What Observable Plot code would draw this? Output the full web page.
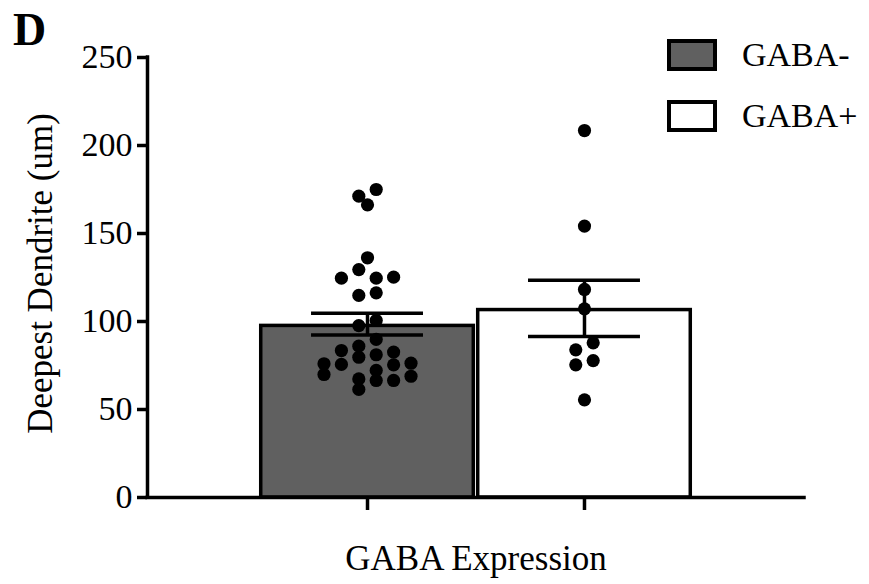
<!DOCTYPE html>
<html>
<head>
<meta charset="utf-8">
<script src="https://cdn.jsdelivr.net/npm/d3@7"></script>
<script src="https://cdn.jsdelivr.net/npm/@observablehq/plot@0.6"></script>
<style>
  body { margin: 0; background: #fff; }
  #wrap { position: relative; width: 869px; height: 584px; font-family: "Liberation Serif", serif; color: #000; }
  #chart svg { display: block; }
  #chart svg, #chart svg text, #overlay text { font-family: "Liberation Serif", serif !important; }
  #overlay { position: absolute; left: 0; top: 0; pointer-events: none; }
</style>
</head>
<body>
<div id="wrap">
  <div id="chart"></div>
  <svg id="overlay" width="869" height="584"></svg>
</div>
<script>
// ---- data ----
const panelLetter = "D";
const groups = ["GABA-", "GABA+"];
const groupFills = ["#606060", "#ffffff"];
const means = [97.5, 106.5];
const errLow = [92.4, 91.5];
const errHigh = [104.7, 123.5];

const gabaNegValues = [175, 171.2, 166.3, 136.2, 129.5, 124.6, 124.6, 125.2, 114.8, 116.3,
  100.6, 97.7, 89.8, 83.5, 86, 79.7, 81.1, 82.6, 76, 75.6,
  72.2, 75.4, 76.3, 69.9, 67.4, 66.5, 66.5, 68.9, 61.4];
// horizontal swarm slot of each point (half dot-steps from the group centre)
const gabaNegSlots = [1, -1, 0, 0, -1, -3, 1, 3, -1, 1,
  1, -1, 1, -3, -1, -1, 1, 3, -5, -3,
  1, 3, 5, -5, -1, 1, 3, 5, -1];

const gabaPosValues = [208.5, 154.2, 118.2, 107.2, 87.9, 83.9, 77.8, 75.4, 55.5];
const gabaPosSlots = [0, 0, 0, 0, 1, -1, 1, -1, 0];

const yTicks = [0, 50, 100, 150, 200, 250];
const yDomain = [0, 250];
const yLabel = "Deepest Dendrite (um)";
const xLabel = "GABA Expression";

// ---- tables ----
const bars = groups.map((g, i) => ({group: g, idx: i, mean: means[i], lo: errLow[i], hi: errHigh[i], fill: groupFills[i]}));
const points = [
  ...gabaNegValues.map((v, j) => ({group: groups[0], idx: 0, value: v, slot: gabaNegSlots[j]})),
  ...gabaPosValues.map((v, j) => ({group: groups[1], idx: 1, value: v, slot: gabaPosSlots[j]}))
];

// ---- layout constants ----
const outerPad = 0.514;
const xDomain = [-0.5 - outerPad, groups.length - 0.5 + outerPad];
const slotW = 0.0401;
const capHalf = 0.258;
const lw = 3.5;
const fontFamily = "Liberation Serif";

const chart = Plot.plot({
  width: 869,
  height: 584,
  marginLeft: 147,
  marginRight: 65,
  marginTop: 57,
  marginBottom: 87,
  style: {fontFamily: "'Liberation Serif', serif", fontSize: "34px", color: "#000", background: "#fff"},
  x: {type: "linear", domain: xDomain},
  y: {domain: yDomain},
  marks: [
    Plot.rectY(bars, {
      x1: d => d.idx - 0.5, x2: d => d.idx + 0.5, y1: () => 0, y2: "mean",
      fill: "fill", stroke: "#000", strokeWidth: lw, insetLeft: 2.2, insetRight: 2.2
    }),
    Plot.ruleX(bars, {x: "idx", y1: "lo", y2: "hi", stroke: "#000", strokeWidth: lw}),
    Plot.ruleY(bars, {y: "lo", x1: d => d.idx - capHalf, x2: d => d.idx + capHalf, stroke: "#000", strokeWidth: lw}),
    Plot.ruleY(bars, {y: "hi", x1: d => d.idx - capHalf, x2: d => d.idx + capHalf, stroke: "#000", strokeWidth: lw}),
    Plot.dot(points, {x: d => d.idx + d.slot * slotW, y: "value", r: 6.6, fill: "#000", stroke: "none"}),
    Plot.ruleY([yDomain[0]], {stroke: "#000", strokeWidth: lw, strokeLinecap: "square"}),
    Plot.ruleX([xDomain[0]], {stroke: "#000", strokeWidth: lw, strokeLinecap: "square"}),
    Plot.axisY(yTicks, {tickSize: 10, tickPadding: 5, strokeWidth: lw, fontSize: 34, fontFamily, label: null}),
    Plot.axisX(groups.map((g, i) => i), {tickSize: 13, tickFormat: () => "", strokeWidth: lw, label: null}),
    Plot.text([xLabel], {frameAnchor: "bottom", textAnchor: "middle", dy: 72, fontSize: 35, fontFamily, text: d => d}),
    Plot.text([yLabel], {frameAnchor: "left", textAnchor: "middle", rotate: -90, dx: -107, dy: -4, fontSize: 35, fontFamily, text: d => d})
  ]
});
document.getElementById("chart").appendChild(chart);

// ---- panel letter and legend ----
const ov = d3.select("#overlay");
ov.append("text").attr("x", 13).attr("y", 45)
  .attr("font-family", fontFamily).attr("font-weight", "bold").attr("font-size", 46)
  .text(panelLetter);

const legend = ov.append("g").attr("transform", "translate(667,39)");
const item = legend.selectAll("g").data(groups).join("g")
  .attr("transform", (d, i) => `translate(0,${i * 61})`);
item.append("rect").attr("x", 2).attr("y", 2).attr("width", 46).attr("height", 28)
  .attr("fill", (d, i) => groupFills[i]).attr("stroke", "#000").attr("stroke-width", 4);
item.append("text").attr("x", 75).attr("y", 27)
  .attr("font-family", fontFamily).attr("font-size", 34).text(d => d);
</script>
</body>
</html>
